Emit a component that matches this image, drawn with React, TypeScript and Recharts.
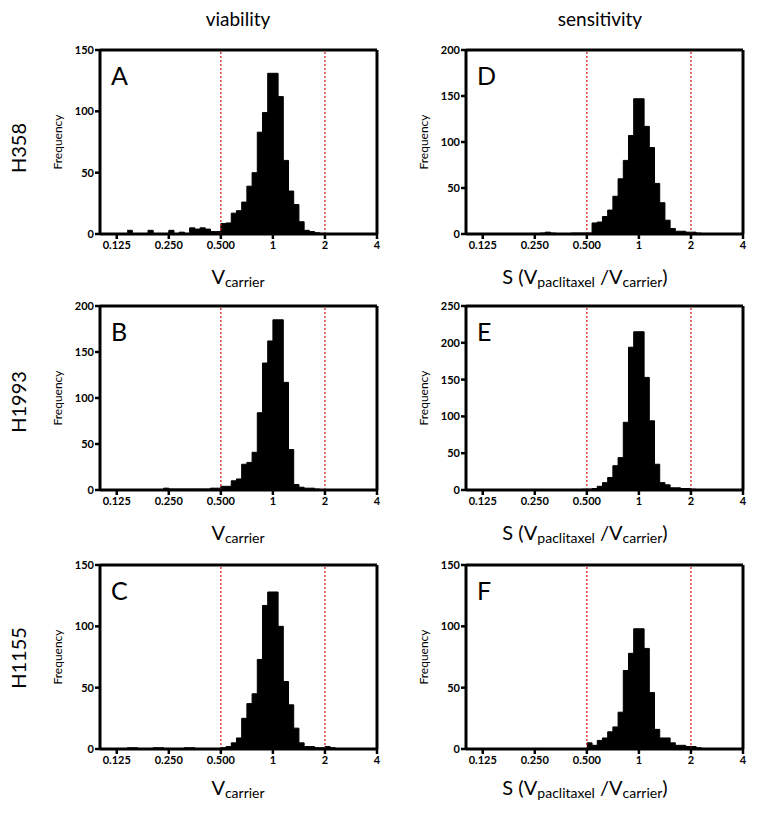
import React from 'react';
import { ComposedChart, Area, XAxis, YAxis, ReferenceLine } from 'recharts';

// log2 bin width of the histograms
const BIN = 0.1;
const X_MIN = Math.log2(0.1);
const X_MAX = 2;
const X_TICKS = [-3, -2, -1, 0, 1, 2];
const X_TICK_LABELS = ['0.125', '0.250', '0.500', '1', '2', '4'];
const CUTOFFS = [-1, 1];

// counts per bin, starting at log2 value given by *_START
const A_START = -2.8;
const A_COUNTS = [3, 0, 0, 0, 3, 0, 0, 0, 3, 0, 1.5, 0, 5, 4, 5, 4, 2, 2, 8.5, 9, 17, 19, 26, 39, 50, 83, 99, 131, 131, 112, 60, 35, 24, 10, 3, 2, 1, 0.5];
const B_START = -2.5;
const B_COUNTS = [0, 0, 0, 0, 2, 1, 1, 1, 1, 1, 1, 1, 1, 2, 2, 4, 4, 10, 12, 28, 30, 41, 84, 138, 162, 185, 185, 117, 44, 6, 3, 2, 2, 1];
const C_START = -2.8;
const C_COUNTS = [1, 1, 0, 0, 0, 1, 1, 0, 0, 0, 0, 1, 1, 0, 0, 0, 0, 0, 1, 2, 5, 9, 25, 37, 45, 73, 117, 128, 128, 100, 55, 36, 17, 5, 2, 2, 1, 1, 2, 1];
const D_START = -2.6;
const D_COUNTS = [0, 0, 0, 0, 0, 0, 0, 1, 2, 1, 0, 0, 0, 1, 1, 1, 1, 12, 13, 19, 26, 41, 60, 80, 107, 147, 147, 117, 94, 55, 34, 15, 6, 3, 3, 2, 2, 1];
const E_START = -1.1;
const E_COUNTS = [1, 1, 2, 5, 10, 17, 33, 44, 92, 194, 215, 215, 153, 94, 35, 10, 7, 3, 3, 2, 2, 1];
const F_START = -1.0;
const F_COUNTS = [5, 3, 7, 9, 14, 18, 30, 64, 78, 98, 98, 82, 46, 16, 9, 9, 5, 3, 3, 2, 2, 1];

const Y_TICKS_A = [0, 50, 100, 150];
const Y_TICKS_B = [0, 50, 100, 150, 200];
const Y_TICKS_C = [0, 50, 100, 150];
const Y_TICKS_D = [0, 50, 100, 150, 200];
const Y_TICKS_E = [0, 50, 100, 150, 200, 250];
const Y_TICKS_F = [0, 50, 100, 150];

const PANEL_LETTERS = ['A', 'B', 'C', 'D', 'E', 'F'];
const ROW_LABELS = ['H358', 'H1993', 'H1155'];
const COLUMN_TITLES = ['viability', 'sensitivity'];

const FONT = 'Lato, "Open Sans", sans-serif';

function buildBins(start: number, counts: number[]) {
  const rows = counts.map((c, i) => ({ x: +(start + i * BIN).toFixed(3), y: c }));
  rows.push({ x: +(start + counts.length * BIN).toFixed(3), y: 0 });
  return rows;
}

type PanelProps = {
  left: number;
  top: number;
  start: number;
  counts: number[];
  yTicks: number[];
  letter: string;
};

const CHART_W = 340;
const CHART_H = 230;
const Y_AXIS_W = 40;

function Panel({ left, top, start, counts, yTicks, letter }: PanelProps) {
  const data = buildBins(start, counts);
  const yMax = yTicks[yTicks.length - 1];
  return (
    <div style={{ position: 'absolute', left, top, width: CHART_W, height: CHART_H }}>
      <ComposedChart width={CHART_W} height={CHART_H} data={data} margin={{ top: 10, right: 23, left: 0, bottom: 6 }}>
        <XAxis
          type="number"
          dataKey="x"
          domain={[X_MIN, X_MAX]}
          ticks={X_TICKS}
          tickFormatter={(v: number) => X_TICK_LABELS[X_TICKS.indexOf(v)] ?? ''}
          allowDataOverflow
          height={30}
          tickSize={5}
          tickMargin={2}
          axisLine={{ stroke: '#000', strokeWidth: 3 }}
          tickLine={{ stroke: '#000', strokeWidth: 2.5 }}
          tick={{ fill: '#000', fontSize: 11, fontFamily: FONT, fontWeight: 700 }}
        />
        <YAxis
          type="number"
          domain={[0, yMax]}
          ticks={yTicks}
          width={Y_AXIS_W}
          tickSize={5}
          tickMargin={1}
          allowDataOverflow
          axisLine={{ stroke: '#000', strokeWidth: 3 }}
          tickLine={{ stroke: '#000', strokeWidth: 2.5 }}
          tick={{ fill: '#000', fontSize: 11, fontFamily: FONT, fontWeight: 700 }}
        />
        <Area
          type="stepAfter"
          dataKey="y"
          stroke="#000"
          strokeWidth={1}
          fill="#000"
          fillOpacity={1}
          isAnimationActive={false}
          dot={false}
          activeDot={false}
        />
        {CUTOFFS.map((c) => (
          <ReferenceLine key={c} x={c} stroke="#d82020" strokeWidth={1.3} strokeDasharray="2 2" />
        ))}
        <ReferenceLine y={yMax} stroke="#000" strokeWidth={3} />
        <ReferenceLine x={X_MAX} stroke="#000" strokeWidth={3} />
      </ComposedChart>
      <div
        style={{
          position: 'absolute',
          left: 51,
          top: 20,
          fontFamily: FONT,
          fontSize: 25,
          lineHeight: '30px',
          color: '#000',
        }}
      >
        {letter}
      </div>
    </div>
  );
}

const LEFT_COL = 60;
const RIGHT_COL = 426;
const ROW_TOPS = [40, 296, 555];

const PANELS = [
  { left: LEFT_COL, top: ROW_TOPS[0], start: A_START, counts: A_COUNTS, yTicks: Y_TICKS_A, letter: PANEL_LETTERS[0] },
  { left: LEFT_COL, top: ROW_TOPS[1], start: B_START, counts: B_COUNTS, yTicks: Y_TICKS_B, letter: PANEL_LETTERS[1] },
  { left: LEFT_COL, top: ROW_TOPS[2], start: C_START, counts: C_COUNTS, yTicks: Y_TICKS_C, letter: PANEL_LETTERS[2] },
  { left: RIGHT_COL, top: ROW_TOPS[0], start: D_START, counts: D_COUNTS, yTicks: Y_TICKS_D, letter: PANEL_LETTERS[3] },
  { left: RIGHT_COL, top: ROW_TOPS[1], start: E_START, counts: E_COUNTS, yTicks: Y_TICKS_E, letter: PANEL_LETTERS[4] },
  { left: RIGHT_COL, top: ROW_TOPS[2], start: F_START, counts: F_COUNTS, yTicks: Y_TICKS_F, letter: PANEL_LETTERS[5] },
];

export default function App() {
  return (
    <div style={{ position: 'absolute', left: 0, top: 0, width: 758, height: 817, background: '#fff' }}>
      {PANELS.map((p) => (
        <Panel key={p.letter} {...p} />
      ))}
      <svg width={758} height={817} style={{ position: 'absolute', left: 0, top: 0, pointerEvents: 'none' }}>
        <g fontFamily={FONT} fill="#000">
          <text x={238} y={26} fontSize={19} textAnchor="middle">{COLUMN_TITLES[0]}</text>
          <text x={600} y={26} fontSize={19} textAnchor="middle">{COLUMN_TITLES[1]}</text>
          {ROW_LABELS.map((r, i) => {
            const cy = [148, 402, 658][i];
            return (
              <text key={r} x={0} y={0} fontSize={20} textAnchor="middle" transform={`translate(26, ${cy}) rotate(-90)`}>
                {r}
              </text>
            );
          })}
          {[142, 398, 657].map((cy, i) =>
            [62, 428].map((x) => (
              <text key={`f${i}-${x}`} x={0} y={0} fontSize={12} textAnchor="middle" transform={`translate(${x}, ${cy}) rotate(-90)`}>
                Frequency
              </text>
            ))
          )}
          {[284, 540, 795].map((y) => (
            <g key={`xl${y}`}>
              <text x={238} y={y} fontSize={20} textAnchor="middle">
                V<tspan fontSize={14} dy={3}>carrier</tspan>
              </text>
              <text x={585} y={y} fontSize={20} textAnchor="middle">
                S (V<tspan fontSize={14} dy={3}>paclitaxel</tspan>
                <tspan dy={-3}> /V</tspan>
                <tspan fontSize={14} dy={3}>carrier</tspan>
                <tspan dy={-3}>)</tspan>
              </text>
            </g>
          ))}
        </g>
      </svg>
    </div>
  );
}
